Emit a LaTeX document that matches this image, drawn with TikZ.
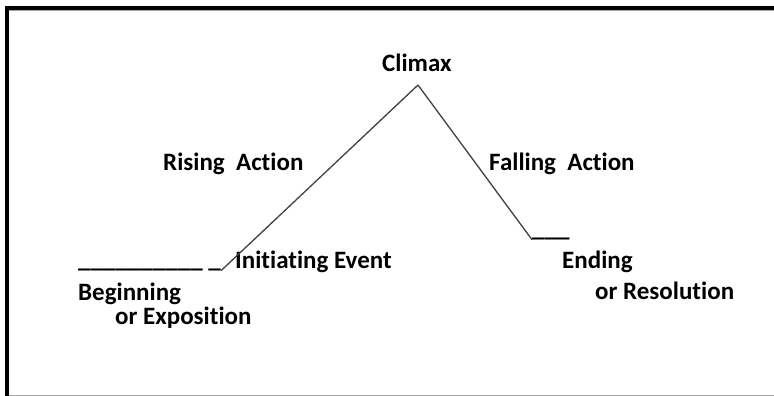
\documentclass[tikz,border=0pt]{standalone}
\usepackage{fontspec}
\setmainfont[Ligatures=NoCommon]{Carlito}
\begin{document}
\begin{tikzpicture}[x=1pt, y=-1pt,
		lbl/.style={anchor=base west, inner sep=0pt, font=\bfseries\fontsize{25}{29}\selectfont},
		plot/.style={line width=1.3pt, black!75}]
		\useasboundingbox (0,0) rectangle (774,396);
		% frame
		\draw[line width=4pt] (7,396) -- (7,8) -- (774,8);
		\draw[gray!70, line width=1pt] (9,10.5) -- (774,10.5);
		\draw[gray!70, line width=1pt] (9,395) -- (774,395);
		% labels
		\draw (382,71) node[lbl] (climax) {Climax};
		\draw (163,170) node[lbl] (rising) {Rising\ \ Action};
		\draw (489,170) node[lbl] (falling) {Falling\ \ Action};
		\draw (235,268) node[lbl] (event) {Initiating Event};
		\draw (78,267) node[lbl] (lowdash) {\_\_\_\_\_\_\_\_\_\_ \_};
		\draw (532,236) node[lbl] (highdash) {\_\_\_};
		\draw (78,300) node[lbl] (begin) {Beginning};
		\draw (115,324) node[lbl] (expo) {or Exposition};
		\draw (562,268) node[lbl] (ending) {Ending};
		\draw (595,299) node[lbl] (resol) {or Resolution};
		\coordinate (peak) at (418,85);
		\draw[plot] (lowdash.south east) -- (peak);
		\draw[plot] (peak) -- (highdash.south west);
	\end{tikzpicture}
\end{document}
